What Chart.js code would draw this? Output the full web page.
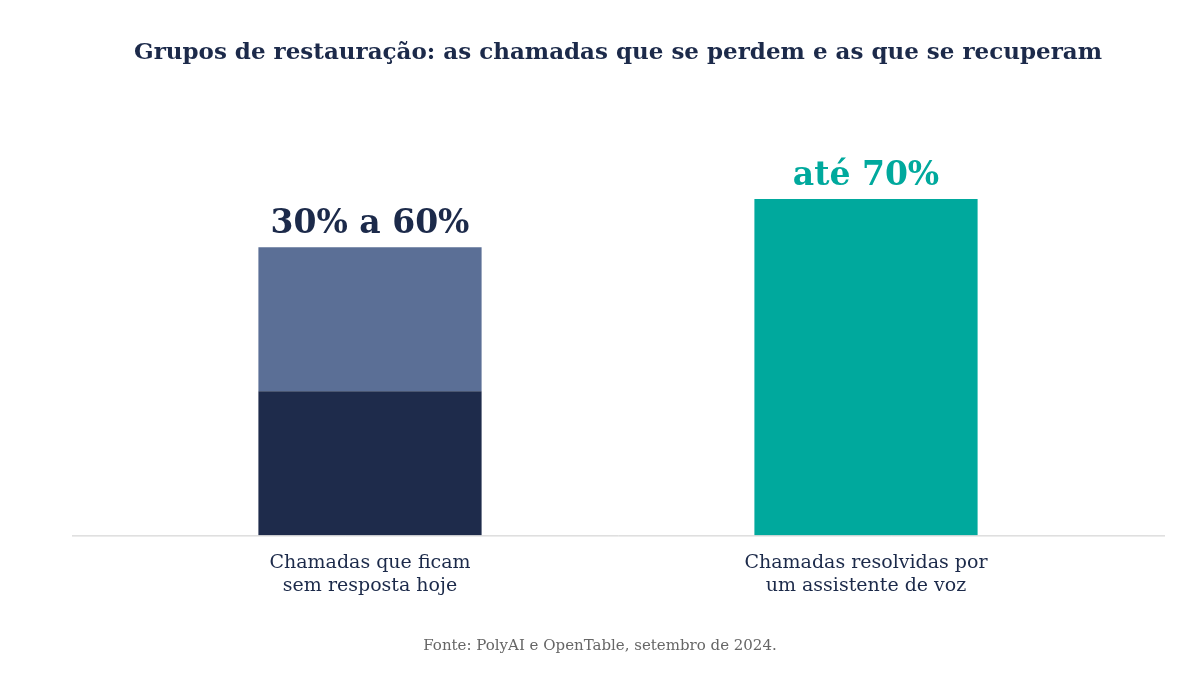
<!DOCTYPE html>
<html><head><meta charset="utf-8">
<script src="https://cdn.jsdelivr.net/npm/chart.js@4"></script>
<style>body{margin:0;background:#fff}#w{width:1200px;height:675px}</style>
</head><body><div id="w"><canvas id="c"></canvas></div>
<script>
const categories=[["Chamadas que ficam","sem resposta hoje"],["Chamadas resolvidas por","um assistente de voz"]];
const lowerValues=[30,70];
const upperValues=[30,0];
const barLabels=["30% a 60%","até 70%"];
const labelColors=["#1c2a4a","#00a99d"];
const F="'DejaVu Serif', serif";
const deco={id:'deco',afterDraw(ch){const c=ch.ctx,ya=ch.scales.y;c.save();
c.strokeStyle='#cccccc';c.lineWidth=1;c.beginPath();c.moveTo(72,ya.bottom+0.5);c.lineTo(1165,ya.bottom+0.5);c.stroke();
c.textAlign='center';c.textBaseline='middle';c.fillStyle='#1c2a4a';c.font="bold 23px "+F;
c.fillText("Grupos de restauração: as chamadas que se perdem e as que se recuperam",618,53);
c.fillStyle='#666';c.font="15px "+F;c.fillText("Fonte: PolyAI e OpenTable, setembro de 2024.",600,646);
c.font="bold 33px "+F;c.textBaseline='alphabetic';
const m0=ch.getDatasetMeta(0),m1=ch.getDatasetMeta(1);
for(let i=0;i<categories.length;i++){const tot=lowerValues[i]+upperValues[i];const y=ya.getPixelForValue(tot);
c.fillStyle=labelColors[i];c.fillText(barLabels[i],m0.data[i].x,y-14);}
c.restore();}};
new Chart(document.getElementById('c'),{type:'bar',
data:{labels:categories,datasets:[
{data:lowerValues,backgroundColor:['#1e2b4b','#00a99d']},
{data:upperValues,backgroundColor:'#5b6f96'}]},
options:{responsive:true,maintainAspectRatio:false,animation:false,
layout:{padding:{left:122,right:86,top:55,bottom:70}},
datasets:{bar:{barPercentage:0.45,categoryPercentage:1}},
plugins:{legend:{display:false},tooltip:{enabled:false}},
scales:{x:{stacked:true,grid:{display:false},border:{display:false},
ticks:{color:'#1c2a4a',font:{family:F,size:19},padding:8}},
y:{stacked:true,display:false,min:0,max:100}}},
plugins:[deco]});
</script></body></html>
